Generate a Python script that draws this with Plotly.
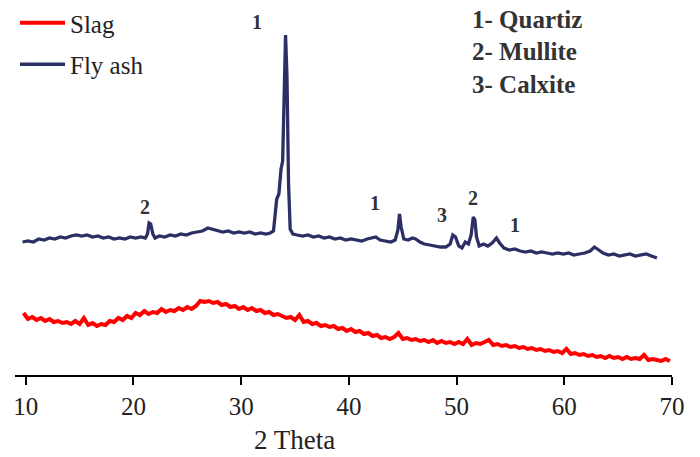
import plotly.graph_objects as go

# ---- data ----
fly_theta = [
    9.7, 10.2, 10.7, 11.2, 11.7, 12.2, 12.7, 13.2, 13.7, 14.2,
    14.7, 15.2, 15.7, 16.2, 16.7, 17.2, 17.7, 18.2, 18.7, 19.2,
    19.7, 20.2, 20.7, 21.1, 21.3, 21.45, 21.6, 21.8, 22.0, 22.4,
    22.9, 23.4, 23.9, 24.4, 24.9, 25.4, 25.9, 26.4, 26.9, 27.3,
    27.8, 28.3, 28.8, 29.3, 29.8, 30.3, 30.8, 31.3, 31.8, 32.3,
    32.7, 33.0, 33.15, 33.3, 33.5, 33.7, 33.85, 34.0, 34.12, 34.25,
    34.4, 34.55, 34.8, 35.2, 35.7, 36.2, 36.7, 37.2, 37.7, 38.2,
    38.7, 39.2, 39.7, 40.2, 40.7, 41.2, 41.7, 42.2, 42.5, 42.9,
    43.4, 43.9, 44.3, 44.55, 44.7, 44.85, 45.1, 45.5, 45.9, 46.2,
    46.6, 47.0, 47.5, 48.0, 48.5, 49.0, 49.4, 49.65, 49.9, 50.2,
    50.5, 50.8, 51.1, 51.35, 51.55, 51.7, 51.85, 52.1, 52.5, 52.9,
    53.3, 53.7, 54.0, 54.4, 54.9, 55.4, 55.9, 56.4, 56.9, 57.4,
    57.9, 58.4, 58.9, 59.4, 59.9, 60.4, 60.9, 61.4, 61.9, 62.4,
    62.8, 63.2, 63.6, 64.1, 64.6, 65.1, 65.6, 66.1, 66.6, 67.1,
    67.6, 68.1, 68.6,
]
fly_intensity = [
    133, 134, 133, 136, 135, 137, 136, 138, 137, 139,
    140, 139, 140, 138, 139, 137, 138, 136, 137, 136,
    138, 137, 138, 137, 141, 152, 151, 141, 137, 139,
    138, 140, 139, 141, 140, 142, 143, 144, 147, 146,
    144, 143, 144, 142, 143, 142, 143, 141, 142, 141,
    142, 144, 160, 176, 181, 206, 214, 290, 340, 300,
    190, 146, 141, 140, 139, 140, 138, 139, 137, 138,
    136, 137, 135, 136, 135, 134, 136, 137, 138, 135,
    134, 133, 135, 145, 161, 148, 136, 135, 137, 136,
    133, 131, 130, 129, 128, 128, 131, 140, 138, 129,
    127, 133, 131, 140, 158, 155, 138, 129, 131, 129,
    132, 137, 132, 127, 125, 126, 124, 123, 124, 122,
    123, 122, 121, 122, 121, 122, 120, 121, 122, 124,
    128, 125, 122, 120, 121, 119, 120, 121, 119, 120,
    121, 119, 117,
]

slag_intensity = [
    62, 56, 58, 55, 57, 54, 56, 53, 54, 52,
    53, 51, 54, 51, 57, 50, 52, 49, 51, 50,
    54, 53, 57, 55, 59, 57, 62, 60, 64, 61,
    63, 62, 66, 63, 65, 64, 67, 65, 68, 66,
    69, 74, 73, 74, 72, 73, 70, 71, 68, 69,
    66, 68, 65, 67, 64, 65, 62, 63, 60, 61,
    59, 57, 58, 55, 60, 53, 54, 51, 52, 49,
    50, 48, 49, 46, 47, 44, 46, 43, 44, 41,
    42, 39, 40, 37, 38, 36, 38, 42, 36, 37,
    35, 36, 34, 35, 33, 35, 32, 34, 32, 33,
    31, 33, 31, 36, 30, 32, 31, 33, 35, 30,
    31, 29, 30, 28, 29, 27, 28, 26, 27, 25,
    26, 24, 25, 23, 24, 22, 26, 21, 22, 20,
    21, 19, 20, 18, 19, 17, 19, 17, 18, 16,
    18, 16, 17, 16, 20, 15, 16, 15, 14, 16,
    14,
]
slag_start, slag_step = 9.8, 0.4  # 2-theta sampling grid of the slag scan
slag_theta = [round(slag_start + slag_step * i, 2) for i in range(len(slag_intensity))]

peak_labels = ["1", "2", "1", "3", "2", "1"]
peak_label_theta = [31.5, 21.05, 42.4, 48.6, 51.5, 55.4]
peak_label_y = [353, 168, 172, 160, 177, 150]

phase_key = ["1- Quartiz", "2- Mullite", "3- Calxite"]

x_ticks = [10, 20, 30, 40, 50, 60, 70]

SERIF = "Liberation Serif"

fig = go.Figure()
fig.add_trace(go.Scatter(
    x=slag_theta, y=slag_intensity, mode="lines", name="Slag",
    line=dict(color="#ff0000", width=4), legendgroup="a",
))
fig.add_trace(go.Scatter(
    x=fly_theta, y=fly_intensity, mode="lines", name="Fly ash",
    line=dict(color="#2c2f63", width=3.3), legendgroup="b",
))

for t, xv, yv in zip(peak_labels, peak_label_theta, peak_label_y):
    fig.add_annotation(x=xv, y=yv, text="<b>" + t + "</b>", showarrow=False,
                       font=dict(family=SERIF, size=20, color="#333333"))

for i, t in enumerate(phase_key):
    fig.add_annotation(xref="paper", yref="paper", x=0.6925, y=0.947 - i * 0.0855,
                       xanchor="left", yanchor="middle", text="<b>" + t + "</b>",
                       showarrow=False,
                       font=dict(family=SERIF, size=25, color="#333333"))

fig.add_annotation(xref="paper", yref="paper", x=0.426, y=-0.173,
                   xanchor="center", yanchor="middle", text="2 Theta",
                   showarrow=False, font=dict(family=SERIF, size=27, color="#222222"))

fig.update_layout(
    width=700, height=457,
    margin=dict(l=15, r=28, t=0, b=82),
    paper_bgcolor="white", plot_bgcolor="white",
    font=dict(family=SERIF, color="#222222"),
    showlegend=True,
    legend=dict(x=0, y=1, xanchor="left", yanchor="top",
                font=dict(family=SERIF, size=25, color="#222222"),
                tracegroupgap=6, bgcolor="rgba(0,0,0,0)", itemwidth=45),
    xaxis=dict(range=[9.0, 70], tickvals=x_ticks, ticks="outside", ticklen=8,
               tickwidth=2, tickcolor="black", showline=True, linecolor="black",
               linewidth=2, showgrid=False, zeroline=False,
               tickfont=dict(family=SERIF, size=25, color="#222222")),
    yaxis=dict(range=[0, 375], visible=False, showgrid=False, zeroline=False),
)

fig.write_html("out.html")
